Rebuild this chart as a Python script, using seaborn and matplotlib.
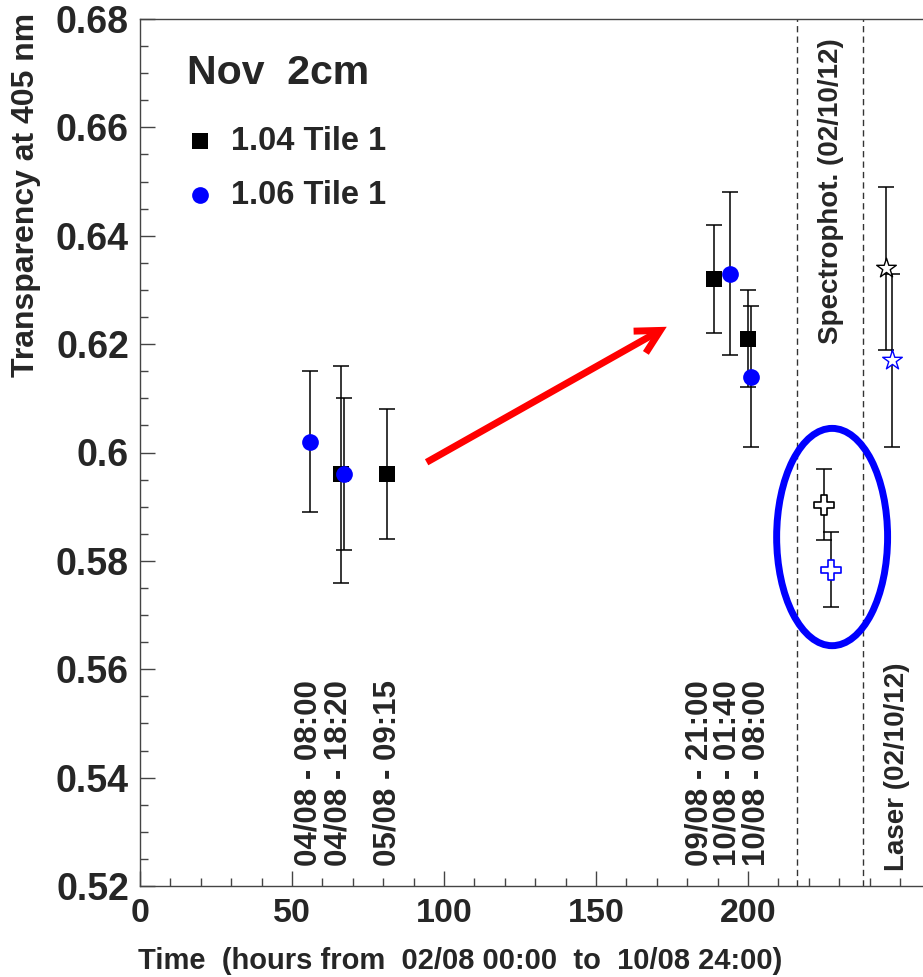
import numpy as np
import pandas as pd
import matplotlib
matplotlib.use("Agg")
import matplotlib.pyplot as plt
import seaborn as sns
from matplotlib.patches import Ellipse, FancyArrowPatch
from matplotlib.ticker import MultipleLocator, FixedLocator, FixedFormatter

# ---------------- data ----------------
sq_x = [66.0, 81.25, 189.0, 200.0]
sq_y = [0.596, 0.596, 0.632, 0.621]
sq_err = [0.020, 0.012, 0.010, 0.009]

ci_x = [56.0, 67.0, 194.0, 201.0]
ci_y = [0.602, 0.596, 0.633, 0.614]
ci_err = [0.013, 0.014, 0.015, 0.013]

spec_x = [225.0, 227.2]
spec_y = [0.5904, 0.5784]
spec_err = [0.0066, 0.0069]
spec_colors = ["black", "blue"]

laser_x = [245.3, 247.4]
laser_y = [0.634, 0.617]
laser_err = [0.015, 0.016]
laser_colors = ["black", "blue"]

time_labels = ["04/08 - 08:00", "04/08 - 18:20", "05/08 - 09:15",
               "09/08 - 21:00", "10/08 - 01:40", "10/08 - 08:00"]
time_label_x = [55.4, 65.2, 81.5, 184.0, 193.4, 202.8]

yticks = [0.52, 0.54, 0.56, 0.58, 0.60, 0.62, 0.64, 0.66, 0.68]
ytick_labels = ["0.52", "0.54", "0.56", "0.58", "0.6", "0.62", "0.64", "0.66", "0.68"]
xticks = [0, 50, 100, 150, 200]
xtick_labels = ["0", "50", "100", "150", "200"]

vlines_x = [216.0, 238.0]

# ---------------- style ----------------
sns.set_theme(style="ticks")
plt.rcParams["font.family"] = ["Liberation Sans", "DejaVu Sans"]
plt.rcParams["font.weight"] = "bold"

W, H = 923, 977
fig = plt.figure(figsize=(W / 100, H / 100), dpi=100)
left_px, right_px, top_px, bot_px = 140, 923, 19, 886
ax = fig.add_axes([left_px / W, 1 - bot_px / H, (right_px - left_px) / W, (bot_px - top_px) / H])
ax.set_xlim(0, 257.6)
ax.set_ylim(0.52, 0.68)

spine_col = "#444444"
for s in ["left", "bottom", "top"]:
    ax.spines[s].set_color(spine_col)
    ax.spines[s].set_linewidth(1.0)
ax.spines["right"].set_visible(False)

ax.xaxis.set_major_locator(FixedLocator(xticks))
ax.xaxis.set_major_formatter(FixedFormatter(xtick_labels))
ax.xaxis.set_minor_locator(MultipleLocator(10))
ax.yaxis.set_major_locator(FixedLocator(yticks))
ax.yaxis.set_major_formatter(FixedFormatter(ytick_labels))
ax.yaxis.set_minor_locator(MultipleLocator(0.005))
ax.tick_params(axis="both", which="major", direction="in", length=11, width=1.0,
               color=spine_col, pad=8)
ax.tick_params(axis="y", which="major", labelsize=27, pad=8)
ax.tick_params(axis="x", which="major", labelsize=24.5, pad=9)
ax.tick_params(axis="both", which="minor", direction="in", length=5.5, width=1.0, color=spine_col)
ax.tick_params(top=False, right=False, which="both")
for lab in ax.get_xticklabels() + ax.get_yticklabels():
    lab.set_fontweight("bold")

# ---------------- error bars ----------------
eb_kw = dict(fmt="none", ecolor="black", elinewidth=1.1, capsize=5.6, capthick=1.1, zorder=2)
ax.errorbar(sq_x, sq_y, yerr=sq_err, **eb_kw)
ax.errorbar(ci_x, ci_y, yerr=ci_err, **eb_kw)
ax.errorbar(spec_x, spec_y, yerr=spec_err, **eb_kw)
ax.errorbar(laser_x, laser_y, yerr=laser_err, **eb_kw)

# ---------------- markers ----------------
df_sq = pd.DataFrame({"x": sq_x, "y": sq_y})
df_ci = pd.DataFrame({"x": ci_x, "y": ci_y})
sns.scatterplot(data=df_sq, x="x", y="y", marker="s", s=120, color="black",
                edgecolor="black", linewidth=0, ax=ax, zorder=3, label="1.04 Tile 1")
sns.scatterplot(data=df_ci, x="x", y="y", marker="o", s=145, color="blue",
                edgecolor="blue", linewidth=0, ax=ax, zorder=4, label="1.06 Tile 1")
df_spec = pd.DataFrame({"x": spec_x, "y": spec_y, "c": spec_colors})
df_laser = pd.DataFrame({"x": laser_x, "y": laser_y, "c": laser_colors})
for _, r in df_spec.iterrows():
    sns.scatterplot(x=[r.x], y=[r.y], marker="P", s=190, facecolor="white",
                    edgecolor=r.c, linewidth=1.2, ax=ax, zorder=4)
for _, r in df_laser.iterrows():
    sns.scatterplot(x=[r.x], y=[r.y], marker="*", s=220, facecolor="white",
                    edgecolor=r.c, linewidth=1.0, ax=ax, zorder=4)

# ---------------- dashed separators ----------------
for xv in vlines_x:
    ax.axvline(xv, color="#333333", lw=1.0, ls=(0, (4.5, 3.0)), zorder=1)

# ---------------- annotations ----------------
for tx, tl in zip(time_label_x, time_labels):
    ax.text(tx, 0.5236, tl, rotation=90, ha="center", va="bottom",
            fontsize=22.5, fontweight="bold")

ax.text(227.3, 0.6482, "Spectrophot. (02/10/12)", rotation=90, ha="center",
        va="center", fontsize=20, fontweight="bold")
ax.text(249.0, 0.5420, "Laser (02/10/12)", rotation=90, ha="center",
        va="center", fontsize=20, fontweight="bold")

ell = Ellipse((227.7, 0.5844), width=36.5, height=0.0401, fill=False,
              edgecolor="blue", lw=5, zorder=5)
ax.add_patch(ell)

arrow = FancyArrowPatch((94.3, 0.5982), (173.3, 0.6232),
                        arrowstyle="->,head_length=0.85,head_width=0.45",
                        mutation_scale=20, color="red", lw=5, zorder=5,
                        shrinkA=0, shrinkB=0, capstyle="butt", joinstyle="miter")
ax.add_patch(arrow)

# ---------------- axis titles ----------------
ax.set_xlabel("Time  (hours from  02/08 00:00  to  10/08 24:00)",
              fontsize=21, fontweight="bold", ha="left")
ax.xaxis.set_label_coords(-0.003, -0.070)
ax.set_ylabel("Transparency at 405 nm", fontsize=23, fontweight="bold")
ax.yaxis.set_label_coords(-0.127, 0.797)

# ---------------- legend ----------------
fig.text(187 / W, 1 - 84 / H, "Nov  2cm", fontsize=29.5, fontweight="bold",
         ha="left", va="baseline")
handles, labels = ax.get_legend_handles_labels()
leg = ax.legend(handles=handles[:2], labels=labels[:2],
                loc="upper left", bbox_to_anchor=(184 / W, 1 - 126 / H),
                bbox_transform=fig.transFigure, frameon=False,
                fontsize=23.5, handlelength=1.0, handletextpad=0.45,
                labelspacing=0.70, borderpad=0, borderaxespad=0)
for t in leg.get_texts():
    t.set_fontweight("bold")

fig.savefig("out.png", dpi=100)
